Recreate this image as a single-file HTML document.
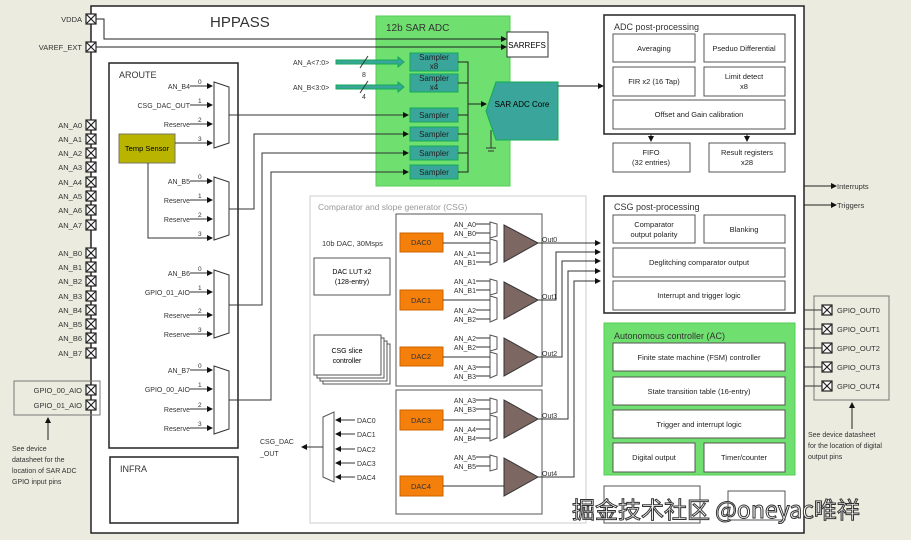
<!DOCTYPE html>
<html><head><meta charset="utf-8"><style>
html,body{margin:0;padding:0;background:#ecebdf;}
svg{display:block;font-family:"Liberation Sans","Noto Sans CJK SC",sans-serif;}
</style></head><body>
<svg width="911" height="540" viewBox="0 0 911 540" xmlns="http://www.w3.org/2000/svg">
<defs>
<marker id="a" markerWidth="6" markerHeight="6" refX="5" refY="3" orient="auto"><path d="M0,0 L6,3 L0,6z" fill="#111"/></marker>
<g id="pin"><rect x="-5" y="-5" width="10" height="10" fill="#fff" stroke="#222" stroke-width="1.2"/><path d="M-5,-5L5,5M5,-5L-5,5" stroke="#222" stroke-width="1.2"/></g>
</defs>
<rect width="911" height="540" fill="#ecebdf"/>
<rect x="91" y="6" width="713" height="527" fill="#fff" stroke="#222" stroke-width="1.5"/>
<text x="210" y="27" font-size="15" fill="#333">HPPASS</text>

<!-- SAR ADC -->
<rect x="376" y="16" width="134" height="170" fill="#6fe06f" stroke="#5c5"/>
<text x="386" y="31" font-size="10" fill="#333">12b SAR ADC</text>
<rect x="507" y="32" width="41" height="25" fill="#fff" stroke="#333"/>
<text x="527" y="48" font-size="8" text-anchor="middle">SARREFS</text>
<path d="M96,19H104V39H506" fill="none" stroke="#222" marker-end="url(#a)"/>
<path d="M96,47H506" fill="none" stroke="#222" marker-end="url(#a)"/>
<g stroke="#1a5" fill="#3aa59a">
<rect x="410" y="53" width="48" height="18"/><rect x="410" y="74" width="48" height="18"/>
<rect x="410" y="108" width="48" height="14"/><rect x="410" y="127" width="48" height="14"/>
<rect x="410" y="146" width="48" height="14"/><rect x="410" y="165" width="48" height="14"/>
</g>
<g font-size="8" fill="#222" text-anchor="middle">
<text x="434" y="60">Sampler</text><text x="434" y="69">x8</text>
<text x="434" y="81">Sampler</text><text x="434" y="90">x4</text>
<text x="434" y="118">Sampler</text><text x="434" y="137">Sampler</text>
<text x="434" y="156">Sampler</text><text x="434" y="175">Sampler</text>
</g>
<path d="M458,62H468V172H458M458,83H468M458,115H468M458,134H468M458,153H468" fill="none" stroke="#222"/>
<path d="M468,104H486" stroke="#222" marker-end="url(#a)"/>
<path d="M496,82H558V140H496L486,111Z" fill="#3aa59a" stroke="#1a5"/>
<text x="522" y="107" font-size="8" text-anchor="middle">SAR ADC Core</text>
<path d="M491,130V148M486,148H496M488,151H494" stroke="#333" fill="none"/>
<path d="M558,86H603" stroke="#222" marker-end="url(#a)"/>
<path d="M336,60H398V57L404,62L398,67V64H336Z" fill="#3aa59a" stroke="#1a5"/>
<path d="M336,85H398V82L404,87L398,92V89H336Z" fill="#3aa59a" stroke="#1a5"/>
<path d="M360,68L368,56M360,93L368,81" stroke="#333"/>
<g font-size="7" fill="#333"><text x="293" y="65">AN_A&lt;7:0&gt;</text><text x="293" y="90">AN_B&lt;3:0&gt;</text><text x="362" y="77">8</text><text x="362" y="99">4</text></g>

<!-- left pins -->
<g font-size="7.5" fill="#333" text-anchor="end">
<text x="82" y="22">VDDA</text><text x="82" y="50">VAREF_EXT</text>
<text x="82" y="128">AN_A0</text><text x="82" y="142">AN_A1</text><text x="82" y="156">AN_A2</text><text x="82" y="170">AN_A3</text><text x="82" y="185">AN_A4</text><text x="82" y="199">AN_A5</text><text x="82" y="213">AN_A6</text><text x="82" y="228">AN_A7</text>
<text x="82" y="256">AN_B0</text><text x="82" y="270">AN_B1</text><text x="82" y="284">AN_B2</text><text x="82" y="299">AN_B3</text><text x="82" y="313">AN_B4</text><text x="82" y="327">AN_B5</text><text x="82" y="341">AN_B6</text><text x="82" y="356">AN_B7</text>
<text x="82" y="393">GPIO_00_AIO</text><text x="82" y="408">GPIO_01_AIO</text>
</g>
<rect x="14" y="381" width="86" height="34" fill="none" stroke="#777"/>
<g>
<use href="#pin" x="91" y="19"/><use href="#pin" x="91" y="47"/>
<use href="#pin" x="91" y="125"/><use href="#pin" x="91" y="139"/><use href="#pin" x="91" y="153"/><use href="#pin" x="91" y="167"/><use href="#pin" x="91" y="182"/><use href="#pin" x="91" y="196"/><use href="#pin" x="91" y="210"/><use href="#pin" x="91" y="225"/>
<use href="#pin" x="91" y="253"/><use href="#pin" x="91" y="267"/><use href="#pin" x="91" y="281"/><use href="#pin" x="91" y="296"/><use href="#pin" x="91" y="310"/><use href="#pin" x="91" y="324"/><use href="#pin" x="91" y="338"/><use href="#pin" x="91" y="353"/>
<use href="#pin" x="91" y="390"/><use href="#pin" x="91" y="405"/>
</g>
<path d="M48,440V418" stroke="#222" marker-end="url(#a)"/>
<g font-size="7" fill="#333"><text x="12" y="451">See device</text><text x="12" y="462">datasheet for the</text><text x="12" y="473">location of SAR ADC</text><text x="12" y="484">GPIO input pins</text></g>

<!-- AROUTE -->
<rect x="109" y="63" width="129" height="385" fill="#fff" stroke="#222" stroke-width="1.5"/>
<text x="119" y="78" font-size="9" fill="#333">AROUTE</text>
<rect x="110" y="457" width="128" height="66" fill="#fff" stroke="#222" stroke-width="1.5"/>
<text x="120" y="472" font-size="9" fill="#333">INFRA</text>
<rect x="119" y="134" width="56" height="29" fill="#b8b400" stroke="#776"/>
<text x="147" y="151" font-size="7.5" text-anchor="middle">Temp Sensor</text>
<g fill="#fff" stroke="#333">
<path d="M214,82L229,87V143L214,148Z"/><path d="M214,177L229,182V235L214,240Z"/><path d="M214,270L229,275V333L214,338Z"/><path d="M214,366L229,371V429L214,434Z"/>
</g>
<g stroke="#333" fill="none">
<path d="M229,115H408" marker-end="url(#a)"/>
<path d="M229,209H254V134H408" marker-end="url(#a)"/>
<path d="M229,305H262V153H408" marker-end="url(#a)"/>
<path d="M229,400H271V172H408" marker-end="url(#a)"/>
<path d="M148,163V238H212" marker-end="url(#a)"/>
<path d="M175,143H212" marker-end="url(#a)"/>
</g>
<g stroke="#333" marker-end="url(#a)">
<line x1="190" y1="86" x2="212" y2="86"/><line x1="190" y1="105" x2="212" y2="105"/><line x1="190" y1="124" x2="212" y2="124"/>
<line x1="190" y1="181" x2="212" y2="181"/><line x1="190" y1="200" x2="212" y2="200"/><line x1="190" y1="219" x2="212" y2="219"/>
<line x1="190" y1="273" x2="212" y2="273"/><line x1="190" y1="292" x2="212" y2="292"/><line x1="190" y1="315" x2="212" y2="315"/><line x1="190" y1="334" x2="212" y2="334"/>
<line x1="190" y1="370" x2="212" y2="370"/><line x1="190" y1="389" x2="212" y2="389"/><line x1="190" y1="409" x2="212" y2="409"/><line x1="190" y1="428" x2="212" y2="428"/>
</g>
<g font-size="7" fill="#333" text-anchor="end">
<text x="190" y="89">AN_B4</text><text x="190" y="108">CSG_DAC_OUT</text><text x="190" y="127">Reserve</text>
<text x="190" y="184">AN_B5</text><text x="190" y="203">Reserve</text><text x="190" y="222">Reserve</text>
<text x="190" y="276">AN_B6</text><text x="190" y="295">GPIO_01_AIO</text><text x="190" y="318">Reserve</text><text x="190" y="337">Reserve</text>
<text x="190" y="373">AN_B7</text><text x="190" y="392">GPIO_00_AIO</text><text x="190" y="412">Reserve</text><text x="190" y="431">Reserve</text>
</g>
<g font-size="6.5" fill="#333">
<text x="198" y="84">0</text><text x="198" y="103">1</text><text x="198" y="122">2</text><text x="198" y="141">3</text>
<text x="198" y="179">0</text><text x="198" y="198">1</text><text x="198" y="217">2</text><text x="198" y="236">3</text>
<text x="198" y="271">0</text><text x="198" y="290">1</text><text x="198" y="313">2</text><text x="198" y="332">3</text>
<text x="198" y="368">0</text><text x="198" y="387">1</text><text x="198" y="407">2</text><text x="198" y="426">3</text>
</g>

<!-- CSG -->
<rect x="310" y="196" width="276" height="327" fill="#fff" stroke="#ccc"/>
<text x="318" y="210" font-size="8.5" fill="#999">Comparator and slope generator (CSG)</text>
<rect x="396" y="214" width="146" height="172" fill="none" stroke="#555"/>
<rect x="396" y="390" width="146" height="124" fill="none" stroke="#555"/>
<text x="322" y="246" font-size="7.5" fill="#333">10b DAC, 30Msps</text>
<rect x="314" y="258" width="76" height="37" fill="#fff" stroke="#555"/>
<text x="352" y="274" font-size="7" text-anchor="middle">DAC LUT x2</text><text x="352" y="284" font-size="7" text-anchor="middle">(128-entry)</text>
<g fill="#fff" stroke="#555"><rect x="323" y="344" width="67" height="40"/><rect x="320" y="341" width="67" height="40"/><rect x="317" y="338" width="67" height="40"/><rect x="314" y="335" width="67" height="40"/></g>
<text x="347" y="353" font-size="7" text-anchor="middle">CSG slice</text><text x="347" y="363" font-size="7" text-anchor="middle">controller</text>
<g fill="#f47f0a" stroke="#c60">
<rect x="400" y="233" width="43" height="19"/><rect x="400" y="290" width="43" height="20"/><rect x="400" y="347" width="43" height="19"/><rect x="400" y="410" width="43" height="20"/><rect x="400" y="476" width="43" height="20"/>
</g>
<g font-size="7.5" text-anchor="middle" fill="#333">
<text x="421" y="245">DAC0</text><text x="421" y="303">DAC1</text><text x="421" y="359">DAC2</text><text x="421" y="423">DAC3</text><text x="421" y="489">DAC4</text>
</g>
<g fill="#7d6763" stroke="#333">
<path d="M504,225L538,243L504,262Z"/><path d="M504,282L538,300L504,319Z"/><path d="M504,338L538,357L504,376Z"/><path d="M504,400L538,419L504,438Z"/><path d="M504,458L538,477L504,496Z"/>
</g>
<g fill="#fff" stroke="#555">
<path d="M490,222L497,224V236L490,238Z"/><path d="M490,239L497,241V262L490,265Z"/>
<path d="M490,279L497,281V293L490,295Z"/><path d="M490,296L497,298V319L490,322Z"/>
<path d="M490,335L497,337V349L490,351Z"/><path d="M490,352L497,354V375L490,378Z"/>
<path d="M490,398L497,400V412L490,414Z"/><path d="M490,415L497,417V438L490,441Z"/>
<path d="M490,455L497,457V469L490,471Z"/>
</g>
<g stroke="#333" fill="none">
<path d="M443,243H490M443,300H490M443,357H490M443,420H490M443,486H504"/>
<path d="M476,224H490M476,233H490M476,253H490M476,262H490M476,281H490M476,290H490M476,310H490M476,319H490M476,338H490M476,347H490M476,367H490M476,376H490M476,400H490M476,409H490M476,429H490M476,438H490M476,457H490M476,466H490"/>
<path d="M538,243H600" marker-end="url(#a)"/>
<path d="M538,300H556V252H600" marker-end="url(#a)"/>
<path d="M538,357H562V261H600" marker-end="url(#a)"/>
<path d="M538,419H568V271H600" marker-end="url(#a)"/>
<path d="M538,477H574V281H600" marker-end="url(#a)"/>
</g>
<g font-size="7" fill="#333" text-anchor="end">
<text x="476" y="227">AN_A0</text><text x="476" y="236">AN_B0</text><text x="476" y="256">AN_A1</text><text x="476" y="265">AN_B1</text>
<text x="476" y="284">AN_A1</text><text x="476" y="293">AN_B1</text><text x="476" y="313">AN_A2</text><text x="476" y="322">AN_B2</text>
<text x="476" y="341">AN_A2</text><text x="476" y="350">AN_B2</text><text x="476" y="370">AN_A3</text><text x="476" y="379">AN_B3</text>
<text x="476" y="403">AN_A3</text><text x="476" y="412">AN_B3</text><text x="476" y="432">AN_A4</text><text x="476" y="441">AN_B4</text>
<text x="476" y="460">AN_A5</text><text x="476" y="469">AN_B5</text>
</g>
<g font-size="7" fill="#333"><text x="542" y="242">Out0</text><text x="542" y="299">Out1</text><text x="542" y="356">Out2</text><text x="542" y="418">Out3</text><text x="542" y="476">Out4</text></g>
<path d="M323,417L334,412V482L323,477Z" fill="#fff" stroke="#555"/>
<g stroke="#333" marker-end="url(#a)"><line x1="355" y1="420" x2="336" y2="420"/><line x1="355" y1="434" x2="336" y2="434"/><line x1="355" y1="449" x2="336" y2="449"/><line x1="355" y1="463" x2="336" y2="463"/><line x1="355" y1="477" x2="336" y2="477"/><line x1="323" y1="447" x2="302" y2="447"/></g>
<g font-size="7" fill="#333"><text x="357" y="423">DAC0</text><text x="357" y="437">DAC1</text><text x="357" y="452">DAC2</text><text x="357" y="466">DAC3</text><text x="357" y="480">DAC4</text><text x="260" y="444">CSG_DAC</text><text x="260" y="456">_OUT</text></g>

<!-- right -->
<g fill="#fff" stroke="#222" stroke-width="1.5">
<rect x="604" y="15" width="191" height="119"/><rect x="604" y="196" width="191" height="117"/>
</g>
<rect x="604" y="323" width="191" height="152" fill="#6fe06f" stroke="#5c5"/>
<g font-size="9" fill="#333"><text x="614" y="30">ADC post-processing</text><text x="614" y="210">CSG post-processing</text><text x="614" y="339">Autonomous controller (AC)</text></g>
<g fill="#fff" stroke="#555">
<rect x="613" y="34" width="82" height="28"/><rect x="704" y="34" width="81" height="28"/><rect x="613" y="67" width="82" height="29"/><rect x="704" y="67" width="81" height="29"/><rect x="613" y="100" width="172" height="29"/>
<rect x="613" y="143" width="77" height="29"/><rect x="709" y="143" width="76" height="29"/>
<rect x="613" y="215" width="82" height="28"/><rect x="704" y="215" width="81" height="28"/><rect x="613" y="248" width="172" height="29"/><rect x="613" y="281" width="172" height="29"/>
<rect x="613" y="343" width="172" height="28"/><rect x="613" y="377" width="172" height="28"/><rect x="613" y="410" width="172" height="28"/><rect x="613" y="443" width="82" height="29"/><rect x="704" y="443" width="81" height="29"/>
<rect x="604" y="486" width="96" height="37"/><rect x="728" y="491" width="57" height="29"/>
</g>
<g font-size="7.5" fill="#222" text-anchor="middle">
<text x="654" y="51">Averaging</text><text x="744" y="51">Pseduo Differential</text>
<text x="654" y="84">FIR x2 (16 Tap)</text><text x="744" y="79">Limit detect</text><text x="744" y="89">x8</text>
<text x="699" y="117">Offset and Gain calibration</text>
<text x="651" y="155">FIFO</text><text x="651" y="165">(32 entries)</text><text x="747" y="155">Result registers</text><text x="747" y="165">x28</text>
<text x="654" y="227">Comparator</text><text x="654" y="237">output polarity</text><text x="744" y="232">Blanking</text>
<text x="699" y="265">Deglitching comparator output</text><text x="699" y="298">Interrupt and trigger logic</text>
<text x="699" y="360">Finite state machine (FSM) controller</text><text x="699" y="394">State transition table (16-entry)</text><text x="699" y="427">Trigger and interrupt logic</text>
<text x="654" y="460">Digital output</text><text x="744" y="460">Timer/counter</text>
</g>
<g stroke="#222" marker-end="url(#a)"><line x1="651" y1="134" x2="651" y2="141"/><line x1="747" y1="134" x2="747" y2="141"/><line x1="804" y1="186" x2="836" y2="186"/><line x1="804" y1="205" x2="836" y2="205"/></g>
<g font-size="7.5" fill="#333"><text x="837" y="189">Interrupts</text><text x="837" y="208">Triggers</text></g>
<rect x="814" y="296" width="75" height="104" fill="none" stroke="#777"/>
<path d="M804,310H822M804,329H822M804,348H822M804,367H822M804,386H822" stroke="#333"/>
<use href="#pin" x="827" y="310"/><use href="#pin" x="827" y="329"/><use href="#pin" x="827" y="348"/><use href="#pin" x="827" y="367"/><use href="#pin" x="827" y="386"/>
<g font-size="7.5" fill="#333"><text x="837" y="313">GPIO_OUT0</text><text x="837" y="332">GPIO_OUT1</text><text x="837" y="351">GPIO_OUT2</text><text x="837" y="370">GPIO_OUT3</text><text x="837" y="389">GPIO_OUT4</text></g>
<path d="M852,429V403" stroke="#222" marker-end="url(#a)"/>
<g font-size="7" fill="#333"><text x="808" y="437">See device datasheet</text><text x="808" y="448">for the location of digital</text><text x="808" y="459">output pins</text></g>

<text x="572" y="518" font-size="23" fill="#fff" stroke="#333" stroke-width="1" font-family="'Noto Sans CJK SC','Liberation Sans',sans-serif">掘金技术社区 @oneyac唯祥</text>
</svg>
</body></html>
